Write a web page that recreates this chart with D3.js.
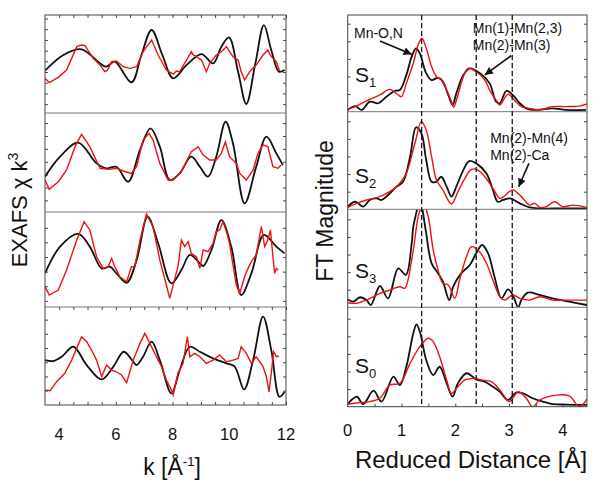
<!DOCTYPE html>
<html><head><meta charset="utf-8">
<script src="https://cdn.jsdelivr.net/npm/d3@7"></script>
<style>
body{margin:0;background:#fff}
svg{display:block}
text{font-family:"Liberation Sans",Arial,Helvetica,sans-serif;fill:#111}
</style>
</head><body>
<svg id="chart" width="601" height="487"></svg>
<script>
// ---------------- DATA ----------------
const kTicks = [4, 6, 8, 10, 12];
const distTicks = [0, 1, 2, 3, 4];
const stateLabels = ["1", "2", "3", "0"];   // S1, S2, S3, S0 (top to bottom)
const dashedDistances = [1.375, 2.39, 3.06];

// EXAFS chi*k^3 (k in 1/Å, arbitrary units) — black = simulation, red = experiment
const exafsSimS1 = [[3.50,-0.88],[4.15,0.59],[4.79,1.12],[5.44,-0.19],[5.67,-0.50],[5.96,-0.03],[6.55,-1.97],[6.90,0.59],[7.26,2.93],[7.64,0.59],[8.02,-1.59],[8.49,-0.35],[9.02,0.68],[9.43,-0.19],[9.72,1.37],[9.99,2.24],[10.31,-0.97],[10.60,-3.99],[10.92,-0.19],[11.22,3.39],[11.48,1.06],[11.75,-0.97],[11.95,-0.81]];
const exafsExpS1 = [[3.50,-1.59],[3.65,-2.00],[3.97,-1.50],[4.26,-0.81],[4.62,1.37],[4.79,1.52],[4.91,1.46],[5.20,0.28],[5.44,-0.35],[5.61,-0.97],[5.69,-0.88],[5.85,-0.03],[6.02,0.03],[6.26,-0.50],[6.49,-0.66],[6.73,-0.50],[6.96,0.90],[7.26,1.99],[7.49,0.59],[7.78,-0.81],[8.02,-1.19],[8.14,-0.90],[8.25,-0.97],[8.49,0.12],[8.66,0.90],[8.72,0.62],[8.84,0.43],[9.02,0.12],[9.19,-0.97],[9.31,-0.19],[9.54,0.59],[9.72,0.90],[9.80,1.10],[9.90,1.37],[10.01,0.90],[10.13,0.43],[10.31,0.12],[10.42,-0.97],[10.54,-1.75],[10.72,-0.97],[10.95,-0.35],[11.19,0.59],[11.36,1.06],[11.45,0.55],[11.54,0.28],[11.66,-0.03],[11.77,-0.88]];

const exafsSimS2 = [[3.50,-1.16],[4.03,0.39],[4.67,1.48],[5.32,-0.13],[5.67,-0.51],[6.02,-0.39],[6.43,-1.55],[6.85,0.91],[7.22,2.59],[7.55,1.17],[7.90,-1.42],[8.25,-0.90],[8.66,0.39],[8.96,-0.38],[9.25,-1.16],[9.54,0.39],[9.87,3.10],[10.13,1.42],[10.54,-3.23],[10.95,-0.38],[11.31,1.94],[11.66,0.65],[11.89,-0.26]];
const exafsExpS2 = [[3.50,-1.42],[3.65,-2.14],[3.97,-1.55],[4.26,-0.64],[4.56,1.17],[4.79,2.12],[5.08,1.17],[5.44,-0.51],[5.79,-0.59],[6.02,-0.51],[6.26,-0.72],[6.55,-0.90],[6.73,-0.38],[6.96,1.68],[7.17,2.20],[7.31,1.68],[7.55,-0.13],[7.84,-1.42],[8.02,-1.42],[8.31,-0.77],[8.66,0.78],[8.90,1.17],[9.08,0.52],[9.31,0.13],[9.54,0.13],[9.72,0.65],[9.86,1.55],[10.01,0.39],[10.25,-0.13],[10.37,-0.91],[10.60,-1.42],[10.84,-0.64],[11.01,0.65],[11.19,1.29],[11.36,1.17],[11.54,-0.38],[11.72,-0.51],[11.83,-0.26]];

const exafsSimS3 = [[3.50,-1.12],[4.03,0.71],[4.67,1.58],[5.08,0.71],[5.50,-0.78],[5.79,-0.66],[6.02,-1.12],[6.38,-1.76],[6.73,-0.21],[7.12,2.76],[7.49,0.94],[7.96,-1.80],[8.31,-0.89],[8.61,0.14],[8.96,-0.43],[9.08,-0.62],[9.37,0.48],[9.72,2.53],[10.07,0.71],[10.42,-2.60],[10.78,-1.12],[11.22,1.51],[11.66,0.71],[11.95,0.25]];
const exafsExpS3 = [[3.50,-2.03],[3.65,-2.60],[3.97,-2.26],[4.26,-0.89],[4.62,1.16],[4.88,2.42],[5.08,1.85],[5.32,0.02],[5.55,-0.78],[5.73,-0.66],[5.85,-0.09],[5.96,-0.66],[6.14,-1.35],[6.38,-1.69],[6.55,-0.66],[6.67,-0.66],[6.85,1.16],[7.08,2.95],[7.31,2.08],[7.55,-0.21],[7.75,-1.69],[7.90,-2.83],[8.08,-1.46],[8.19,-0.66],[8.31,1.16],[8.43,0.71],[8.55,1.05],[8.66,0.25],[8.84,0.02],[8.96,-0.78],[9.08,0.48],[9.25,0.37],[9.43,0.94],[9.54,1.74],[9.66,1.85],[9.78,2.42],[9.90,1.74],[10.01,0.94],[10.13,-0.55],[10.25,-1.92],[10.37,-2.49],[10.54,-1.35],[10.66,-0.78],[10.78,-0.32],[10.95,0.14],[11.13,2.08],[11.25,0.71],[11.36,1.16],[11.45,1.85],[11.54,0.02],[11.60,-1.12],[11.66,-0.78],[11.72,-0.89]];

const exafsSimS0 = [[3.50,-0.85],[3.79,-0.92],[4.09,-0.61],[4.50,0.09],[4.97,-1.20],[5.50,-2.21],[5.91,-1.31],[6.28,-0.26],[6.61,-0.96],[6.73,-1.20],[6.96,-0.61],[7.26,0.45],[7.55,-0.85],[7.96,-3.19],[8.25,-1.55],[8.61,0.09],[8.96,-0.26],[9.43,-0.73],[9.90,-1.08],[10.19,-1.31],[10.52,-2.91],[10.84,-0.85],[11.19,2.21],[11.48,-0.14],[11.77,-3.43],[11.95,-3.08]];
const exafsExpS0 = [[3.50,-2.96],[3.68,-3.00],[3.91,-2.37],[4.20,-1.78],[4.44,-0.85],[4.79,0.80],[4.97,0.45],[5.14,-0.14],[5.32,-0.85],[5.50,-2.02],[5.67,-1.20],[5.85,-1.55],[6.02,-1.67],[6.20,-1.90],[6.38,-2.44],[6.61,-0.85],[6.85,0.33],[7.02,1.03],[7.20,0.33],[7.43,-0.61],[7.61,-1.31],[7.78,-2.25],[7.96,-2.96],[8.02,-3.31],[8.19,-1.78],[8.37,-1.08],[8.52,0.80],[8.61,-0.61],[8.78,-0.38],[8.96,-0.61],[9.19,-1.08],[9.43,-0.85],[9.66,-0.49],[9.90,-0.96],[10.13,-0.85],[10.31,-0.73],[10.42,0.09],[10.60,-0.38],[10.78,-1.08],[10.95,-0.61],[11.19,-1.31],[11.31,-2.02],[11.40,-3.08],[11.48,-1.78],[11.56,-0.26],[11.66,-0.61],[11.75,-0.56]];

// FT magnitude vs reduced distance (Å, arbitrary units)
const ftSimS1 = [[0.00,0.10],[0.14,0.32],[0.26,0.10],[0.41,0.57],[0.57,0.48],[0.72,0.85],[0.88,1.19],[0.97,1.23],[1.09,2.08],[1.19,3.13],[1.27,3.60],[1.34,3.32],[1.46,2.18],[1.56,1.80],[1.65,1.90],[1.71,1.90],[1.77,1.71],[1.87,0.95],[1.95,0.38],[2.02,1.04],[2.15,2.08],[2.27,2.46],[2.46,2.18],[2.64,1.61],[2.76,0.57],[2.83,0.48],[2.95,1.19],[3.07,0.95],[3.20,0.48],[3.32,0.19],[3.51,0.10],[3.81,0.19],[4.06,0.10],[4.43,0.10]];
const ftExpS1 = [[0.00,0.13],[0.20,0.38],[0.38,0.66],[0.60,0.95],[0.78,1.27],[0.94,0.95],[1.00,0.85],[1.09,1.61],[1.22,2.75],[1.31,3.79],[1.38,4.17],[1.46,3.60],[1.56,2.56],[1.65,1.99],[1.74,1.80],[1.84,1.23],[1.93,0.57],[1.97,0.25],[2.05,0.95],[2.15,1.99],[2.24,2.46],[2.39,2.27],[2.55,1.80],[2.64,1.23],[2.76,0.66],[2.83,0.38],[2.98,0.99],[3.10,0.66],[3.23,0.29],[3.38,0.19],[3.57,0.10],[3.81,0.29],[4.06,0.29],[4.31,0.32],[4.45,0.44]];

const ftSimS2 = [[0.00,0.15],[0.14,0.43],[0.29,0.15],[0.41,0.53],[0.54,0.62],[0.63,0.53],[0.75,0.81],[0.91,1.29],[1.03,1.57],[1.16,2.99],[1.27,4.66],[1.37,4.32],[1.46,2.80],[1.56,1.57],[1.65,1.57],[1.74,1.85],[1.84,1.29],[1.93,0.72],[2.02,1.29],[2.15,2.23],[2.26,2.74],[2.39,2.61],[2.58,2.04],[2.70,1.10],[2.79,0.43],[2.89,0.53],[3.02,0.62],[3.20,0.34],[3.38,0.11],[3.57,0.05],[3.94,0.05],[4.45,0.05]];
const ftExpS2 = [[0.00,0.11],[0.17,0.34],[0.35,0.53],[0.60,0.72],[0.78,1.00],[0.94,1.38],[1.09,2.04],[1.25,3.75],[1.37,4.98],[1.46,4.51],[1.56,2.99],[1.65,1.66],[1.77,1.10],[1.93,0.30],[2.05,1.00],[2.18,1.76],[2.30,2.27],[2.42,2.23],[2.55,1.85],[2.70,1.19],[2.83,0.62],[2.90,0.72],[3.07,1.10],[3.23,0.72],[3.38,0.24],[3.48,0.34],[3.57,0.11],[3.69,0.15],[3.85,0.43],[4.00,0.15],[4.19,0.24],[4.45,0.11]];

const ftSimS3 = [[0.00,0.45],[0.10,0.32],[0.23,0.57],[0.35,0.41],[0.43,0.13],[0.60,1.21],[0.75,0.51],[0.94,2.21],[1.08,1.84],[1.19,3.63],[1.22,4.58],[1.29,5.57],[1.34,6.38],[1.39,5.57],[1.46,4.20],[1.56,2.50],[1.68,1.93],[1.77,1.46],[1.89,0.41],[1.96,1.17],[2.11,1.93],[2.27,2.40],[2.39,3.07],[2.50,3.54],[2.61,3.07],[2.73,1.74],[2.86,0.51],[2.98,1.02],[3.07,0.70],[3.17,0.00],[3.23,0.41],[3.35,0.83],[3.57,0.70],[3.81,0.51],[4.12,0.32],[4.45,0.13]];
const ftExpS3 = [[0.00,0.26],[0.17,0.23],[0.35,0.41],[0.60,0.79],[0.78,0.98],[0.97,1.17],[1.06,1.08],[1.19,2.69],[1.31,5.15],[1.35,5.57],[1.42,6.29],[1.46,5.57],[1.51,4.96],[1.59,3.26],[1.68,2.12],[1.77,1.36],[1.87,1.27],[1.99,0.51],[2.08,1.55],[2.21,2.88],[2.30,3.44],[2.45,3.16],[2.58,2.50],[2.70,1.55],[2.83,0.60],[2.92,0.41],[3.07,0.70],[3.20,0.51],[3.38,0.41],[3.57,0.60],[3.81,0.41],[4.06,0.41],[4.45,0.41]];

const ftSimS0 = [[0.00,0.15],[0.07,0.38],[0.17,0.57],[0.29,0.15],[0.48,0.91],[0.63,0.29],[0.85,1.71],[0.97,1.23],[1.09,2.27],[1.22,4.17],[1.28,4.68],[1.35,4.17],[1.46,2.65],[1.59,1.80],[1.71,2.27],[1.84,1.33],[1.95,0.57],[2.05,1.33],[2.21,1.90],[2.39,1.55],[2.55,1.42],[2.70,1.14],[2.83,0.85],[2.98,0.38],[3.13,0.80],[3.26,0.76],[3.44,0.48],[3.63,0.29],[3.81,0.15],[4.06,0.12],[4.45,0.10]];
const ftExpS0 = [[0.00,0.15],[0.23,0.23],[0.41,0.29],[0.60,0.48],[0.78,1.23],[0.97,1.33],[1.16,2.46],[1.34,3.41],[1.50,3.89],[1.59,3.70],[1.71,2.84],[1.84,1.52],[1.93,0.76],[2.05,1.14],[2.18,1.52],[2.33,1.61],[2.49,1.52],[2.67,1.42],[2.83,0.95],[3.01,0.29],[3.17,0.85],[3.32,0.48],[3.44,0.00],[3.57,0.38],[3.88,0.66],[4.12,0.61],[4.31,0.00],[4.45,0.44]];

const exafsSim = [exafsSimS1, exafsSimS2, exafsSimS3, exafsSimS0];
const exafsExp = [exafsExpS1, exafsExpS2, exafsExpS3, exafsExpS0];
const ftSim = [ftSimS1, ftSimS2, ftSimS3, ftSimS0];
const ftExp = [ftExpS1, ftExpS2, ftExpS3, ftExpS0];

// annotations on the FT side: [panel, R, value]
const annoTexts = [
  {panel:0, r:0.117, v:4.20, lines:["Mn-O,N"]},
  {panel:0, r:2.325, v:4.45, lines:["Mn(1)-Mn(2,3)","Mn(2)-Mn(3)"]},
  {panel:1, r:2.65, v:3.74, lines:["Mn(2)-Mn(4)","Mn(2)-Ca"]}
];
const annoArrows = [
  {panel:0, from:[0.60,4.02], to:[1.19,3.26]},
  {panel:0, from:[3.04,3.18], to:[2.55,2.09]},
  {panel:1, from:[3.37,2.61], to:[3.18,1.28]}
];

// ---------------- LAYOUT ----------------
const BLACK = "#111", RED = "#ee1111";
const svg = d3.select("#chart");
const leftX = d3.scaleLinear().domain([3.5, 12]).range([45, 286]);
const rightX = d3.scaleLinear().domain([0, 4.45]).range([347.7, 587]);
const leftBounds = [15, 113, 212, 307, 405];
const rightBounds = [15, 111.7, 209.3, 307.3, 406.7];
const leftDomains = [[-4.83, 4.33], [-3.90, 3.78], [-3.42, 3.08], [-4.01, 2.89]];
const ftUnitPx = 17.6;

const defs = svg.append("defs");
defs.append("marker").attr("id","arrowhead").attr("viewBox","0 0 10 10")
  .attr("refX",10).attr("refY",5).attr("markerWidth",10).attr("markerHeight",8)
  .attr("markerUnits","userSpaceOnUse").attr("orient","auto")
  .append("path").attr("d","M0,0L10,5L0,10z").attr("fill",BLACK);

function tickAxis(g, axis) {
  g.call(axis);
  g.select(".domain").remove();
  g.selectAll(".tick line").attr("stroke","#333").attr("stroke-width",0.9);
  g.selectAll(".tick text").remove();
}

function drawPanel(i, xs, bounds, domain, sim, exp, smoothExp, id) {
  const top = bounds[i], bot = bounds[i+1];
  const y = d3.scaleLinear().domain(domain).range([bot, top]);
  const [x0, x1] = xs.range();
  defs.append("clipPath").attr("id", id).append("rect")
    .attr("x", x0).attr("y", top).attr("width", x1 - x0).attr("height", bot - top);
  const g = svg.append("g").attr("clip-path", `url(#${id})`);
  const lineSmooth = d3.line().x(d => xs(d[0])).y(d => y(d[1])).curve(d3.curveCatmullRom.alpha(0.5));
  const lineExp = d3.line().x(d => xs(d[0])).y(d => y(d[1]))
    .curve(smoothExp ? d3.curveCatmullRom.alpha(0.5) : d3.curveLinear);
  g.append("path").attr("d", lineSmooth(sim)).attr("fill","none").attr("stroke",BLACK).attr("stroke-width",1.8);
  g.append("path").attr("d", lineExp(exp)).attr("fill","none").attr("stroke",RED).attr("stroke-width",1.4);
  const lo = Math.ceil(domain[0] + 0.2), hi = Math.floor(domain[1] - 0.2);
  const tv = d3.range(lo, hi + 1);
  tickAxis(svg.append("g").attr("transform",`translate(${x0},0)`), d3.axisRight(y).tickValues(tv).tickSize(3));
  tickAxis(svg.append("g").attr("transform",`translate(${x1},0)`), d3.axisLeft(y).tickValues(tv).tickSize(3));
  return y;
}

for (let i = 0; i < 4; i++) drawPanel(i, leftX, leftBounds, leftDomains[i], exafsSim[i], exafsExp[i], false, "lc"+i);
const ftY = [];
for (let i = 0; i < 4; i++) {
  const dom = [0, (rightBounds[i+1] - rightBounds[i]) / ftUnitPx];
  ftY.push(drawPanel(i, rightX, rightBounds, dom, ftSim[i], ftExp[i], true, "rc"+i));
}

function frame(xs, bounds) {
  const [x0, x1] = xs.range();
  svg.append("rect").attr("x",x0).attr("y",bounds[0]).attr("width",x1-x0).attr("height",bounds[4]-bounds[0])
    .attr("fill","none").attr("stroke","#444").attr("stroke-width",1);
  for (let i = 1; i < 4; i++)
    svg.append("line").attr("x1",x0).attr("x2",x1).attr("y1",bounds[i]).attr("y2",bounds[i])
      .attr("stroke","#777").attr("stroke-width",1);
}
frame(leftX, leftBounds);
frame(rightX, rightBounds);

const kMinor = d3.range(4, 12.01, 0.5);
tickAxis(svg.append("g").attr("transform",`translate(0,${leftBounds[4]})`), d3.axisTop(leftX).tickValues(kMinor).tickSize(3));
tickAxis(svg.append("g").attr("transform",`translate(0,${leftBounds[0]})`), d3.axisBottom(leftX).tickValues(kMinor).tickSize(3));
tickAxis(svg.append("g").attr("transform",`translate(0,${leftBounds[3]})`), d3.axisBottom(leftX).tickValues(kMinor).tickSize(3));
const rMinor = d3.range(0.5, 4.01, 0.5);
tickAxis(svg.append("g").attr("transform",`translate(0,${rightBounds[4]})`), d3.axisTop(rightX).tickValues(rMinor).tickSize(3));

svg.append("g").selectAll("text").data(kTicks).join("text")
  .attr("x", d => leftX(d)).attr("y", 440).attr("text-anchor","middle").attr("font-size",16.5).text(d => d);
svg.append("g").selectAll("text").data(distTicks).join("text")
  .attr("x", d => rightX(d)).attr("y", 436).attr("text-anchor","middle").attr("font-size",16.5).text(d => d);

svg.append("g").selectAll("line").data(dashedDistances).join("line")
  .attr("x1", d => rightX(d)).attr("x2", d => rightX(d))
  .attr("y1", rightBounds[0]).attr("y2", rightBounds[4])
  .attr("stroke", BLACK).attr("stroke-width", 1.3).attr("stroke-dasharray","5,3");

const kt = svg.append("text").attr("x", 172).attr("y", 475).attr("text-anchor","middle").attr("font-size",23);
kt.append("tspan").text("k [Å");
kt.append("tspan").attr("dy",-9).attr("font-size",13).text("-1");
kt.append("tspan").attr("dy",9).text("]");

svg.append("text").attr("x", 471).attr("y", 468).attr("text-anchor","middle").attr("font-size",24).text("Reduced Distance [Å]");

const yl = svg.append("text").attr("transform","translate(27,210) rotate(-90)").attr("text-anchor","middle").attr("font-size",22);
yl.append("tspan").text("EXAFS χ k");
yl.append("tspan").attr("dy",-9).attr("font-size",14).text("3");

svg.append("text").attr("transform","translate(333,211) rotate(-90)").attr("text-anchor","middle").attr("font-size",23).text("FT Magnitude");

const sBase = [82, 183, 278, 373];
stateLabels.forEach((s, i) => {
  const t = svg.append("text").attr("x", 355).attr("y", sBase[i]).attr("font-size",21);
  t.append("tspan").text("S");
  t.append("tspan").attr("dy",5).attr("font-size",13).text(s);
});

annoTexts.forEach(a => {
  const y = ftY[a.panel];
  a.lines.forEach((ln, j) => {
    svg.append("text").attr("x", rightX(a.r)).attr("y", y(a.v) + j*17).attr("font-size",14).text(ln);
  });
});
annoArrows.forEach(a => {
  const y = ftY[a.panel];
  svg.append("line").attr("x1", rightX(a.from[0])).attr("y1", y(a.from[1]))
    .attr("x2", rightX(a.to[0])).attr("y2", y(a.to[1]))
    .attr("stroke", BLACK).attr("stroke-width",1.6).attr("marker-end","url(#arrowhead)");
});
</script>
</body></html>
